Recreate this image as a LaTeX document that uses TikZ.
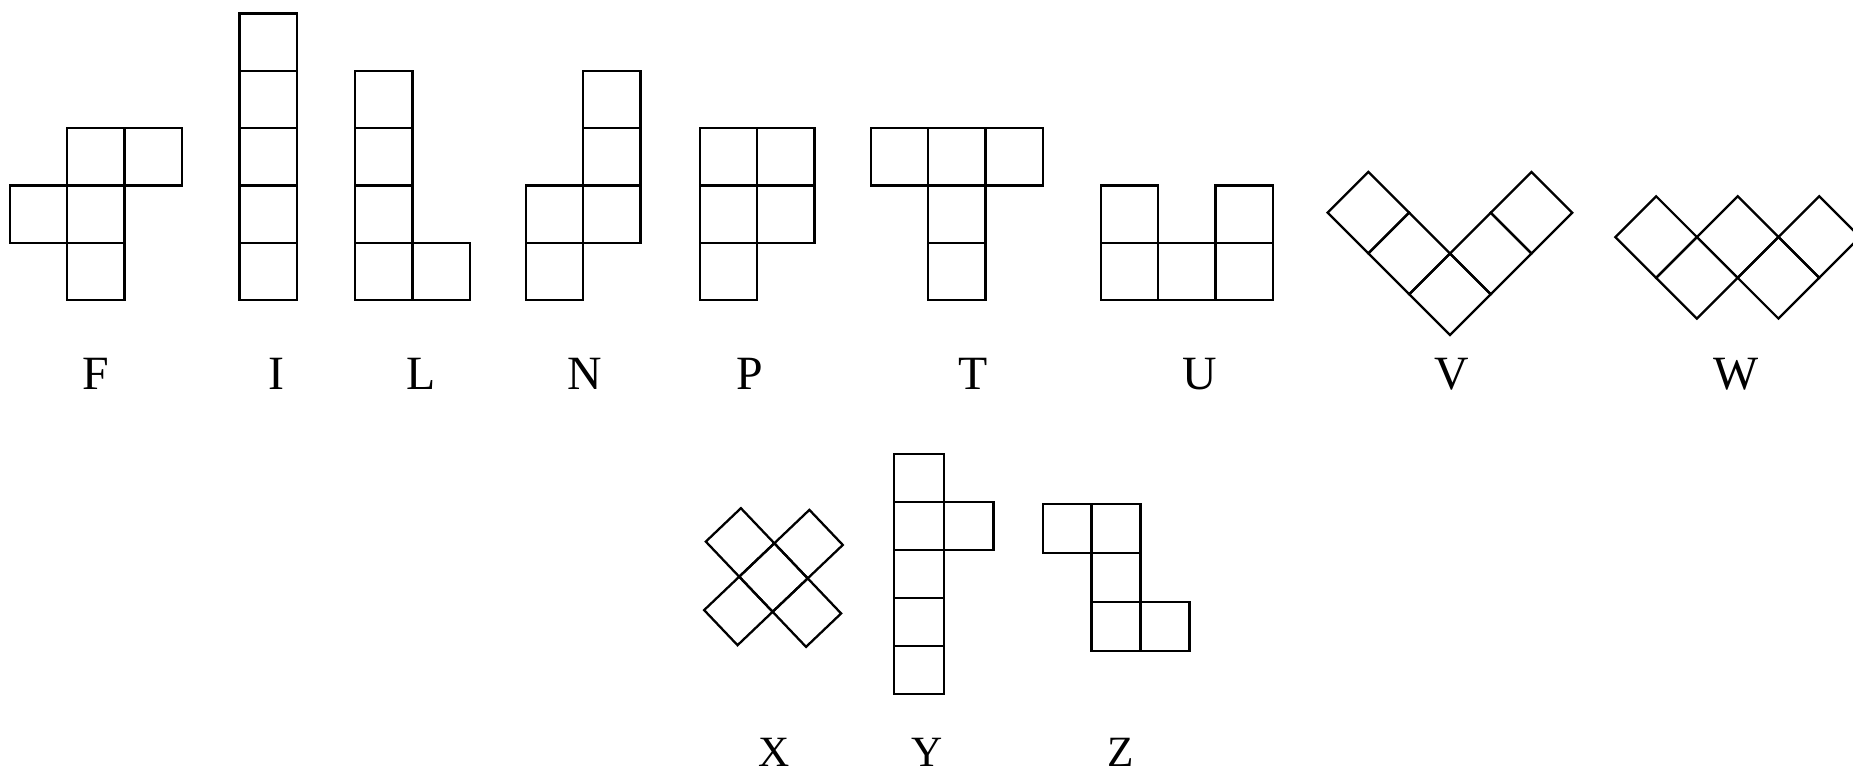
\documentclass[tikz,border=0pt]{standalone}
\usepackage{fontspec}
\setmainfont{Liberation Serif}
\usepackage{tikz}

\begin{document}
\begin{tikzpicture}[
  cell/.style={draw=black,line width=0.55pt},
  tag/.style={font=\fontsize{11.5}{13}\selectfont,anchor=base,inner sep=0pt},
  smalltag/.style={font=\fontsize{10.4}{12}\selectfont,anchor=base,inner sep=0pt},
]
\useasboundingbox (0,0) rectangle (15.68,6.52);
% F
\begin{scope}[shift={(0.084,3.981)},scale=0.485]
\draw[cell] (1,0) rectangle ++(1,1);
\draw[cell] (0,1) rectangle ++(1,1);
\draw[cell] (1,1) rectangle ++(1,1);
\draw[cell] (1,2) rectangle ++(1,1);
\draw[cell] (2,2) rectangle ++(1,1);
\end{scope}
% I
\begin{scope}[shift={(2.027,3.981)},scale=0.485]
\draw[cell] (0,0) rectangle ++(1,1);
\draw[cell] (0,1) rectangle ++(1,1);
\draw[cell] (0,2) rectangle ++(1,1);
\draw[cell] (0,3) rectangle ++(1,1);
\draw[cell] (0,4) rectangle ++(1,1);
\end{scope}
% L
\begin{scope}[shift={(3.005,3.981)},scale=0.485]
\draw[cell] (0,0) rectangle ++(1,1);
\draw[cell] (1,0) rectangle ++(1,1);
\draw[cell] (0,1) rectangle ++(1,1);
\draw[cell] (0,2) rectangle ++(1,1);
\draw[cell] (0,3) rectangle ++(1,1);
\end{scope}
% N
\begin{scope}[shift={(4.45,3.981)},scale=0.485]
\draw[cell] (0,0) rectangle ++(1,1);
\draw[cell] (0,1) rectangle ++(1,1);
\draw[cell] (1,1) rectangle ++(1,1);
\draw[cell] (1,2) rectangle ++(1,1);
\draw[cell] (1,3) rectangle ++(1,1);
\end{scope}
% P
\begin{scope}[shift={(5.923,3.981)},scale=0.485]
\draw[cell] (0,0) rectangle ++(1,1);
\draw[cell] (0,1) rectangle ++(1,1);
\draw[cell] (1,1) rectangle ++(1,1);
\draw[cell] (0,2) rectangle ++(1,1);
\draw[cell] (1,2) rectangle ++(1,1);
\end{scope}
% T
\begin{scope}[shift={(7.37,3.981)},scale=0.485]
\draw[cell] (1,0) rectangle ++(1,1);
\draw[cell] (1,1) rectangle ++(1,1);
\draw[cell] (0,2) rectangle ++(1,1);
\draw[cell] (1,2) rectangle ++(1,1);
\draw[cell] (2,2) rectangle ++(1,1);
\end{scope}
% U
\begin{scope}[shift={(9.315,3.981)},scale=0.485]
\draw[cell] (0,0) rectangle ++(1,1);
\draw[cell] (1,0) rectangle ++(1,1);
\draw[cell] (2,0) rectangle ++(1,1);
\draw[cell] (0,1) rectangle ++(1,1);
\draw[cell] (2,1) rectangle ++(1,1);
\end{scope}
% V (turned 45 degrees)
\begin{scope}[shift={(12.269,3.685)},rotate=45,scale=0.488]
\draw[cell] (0,0) rectangle ++(1,1);
\draw[cell] (1,0) rectangle ++(1,1);
\draw[cell] (2,0) rectangle ++(1,1);
\draw[cell] (0,1) rectangle ++(1,1);
\draw[cell] (0,2) rectangle ++(1,1);
\end{scope}
% W (turned 45 degrees)
\begin{scope}[shift={(14.359,3.824)},rotate=45,scale=0.488]
\draw[cell] (0,1) rectangle ++(1,1);
\draw[cell] (0,0) rectangle ++(1,1);
\draw[cell] (1,0) rectangle ++(1,1);
\draw[cell] (1,-1) rectangle ++(1,1);
\draw[cell] (2,-1) rectangle ++(1,1);
\end{scope}
% X (turned, a bit less than 45)
\begin{scope}[shift={(6.545,1.633)},rotate=43.6,scale=0.41]
\draw[cell] (-0.5,-0.5) rectangle ++(1,1);
\draw[cell] (0.5,-0.5) rectangle ++(1,1);
\draw[cell] (-1.5,-0.5) rectangle ++(1,1);
\draw[cell] (-0.5,0.5) rectangle ++(1,1);
\draw[cell] (-0.5,-1.5) rectangle ++(1,1);
\end{scope}
% Y
\begin{scope}[shift={(7.567,0.648)},xscale=0.42,yscale=0.4056]
\draw[cell] (0,0) rectangle ++(1,1);
\draw[cell] (0,1) rectangle ++(1,1);
\draw[cell] (0,2) rectangle ++(1,1);
\draw[cell] (0,3) rectangle ++(1,1);
\draw[cell] (1,3) rectangle ++(1,1);
\draw[cell] (0,4) rectangle ++(1,1);
\end{scope}
% Z
\begin{scope}[shift={(8.823,1.012)},scale=0.414]
\draw[cell] (1,0) rectangle ++(1,1);
\draw[cell] (2,0) rectangle ++(1,1);
\draw[cell] (1,1) rectangle ++(1,1);
\draw[cell] (0,2) rectangle ++(1,1);
\draw[cell] (1,2) rectangle ++(1,1);
\end{scope}
% names
\node[tag] (tagF) at (0.813,3.22) {F};
\node[tag] (tagI) at (2.342,3.22) {I};
\node[tag] (tagL) at (3.563,3.22) {L};
\node[tag] (tagN) at (4.95,3.22) {N};
\node[tag] (tagP) at (6.342,3.22) {P};
\node[tag] (tagT) at (8.231,3.22) {T};
\node[tag] (tagU) at (10.15,3.22) {U};
\node[tag] (tagV) at (12.284,3.22) {V};
\node[tag] (tagW) at (14.69,3.22) {W};
\node[smalltag] (tagX) at (6.552,0.033) {X};
\node[smalltag] (tagY) at (7.847,0.033) {Y};
\node[smalltag] (tagZ) at (9.483,0.033) {Z};
\end{tikzpicture}
\end{document}
